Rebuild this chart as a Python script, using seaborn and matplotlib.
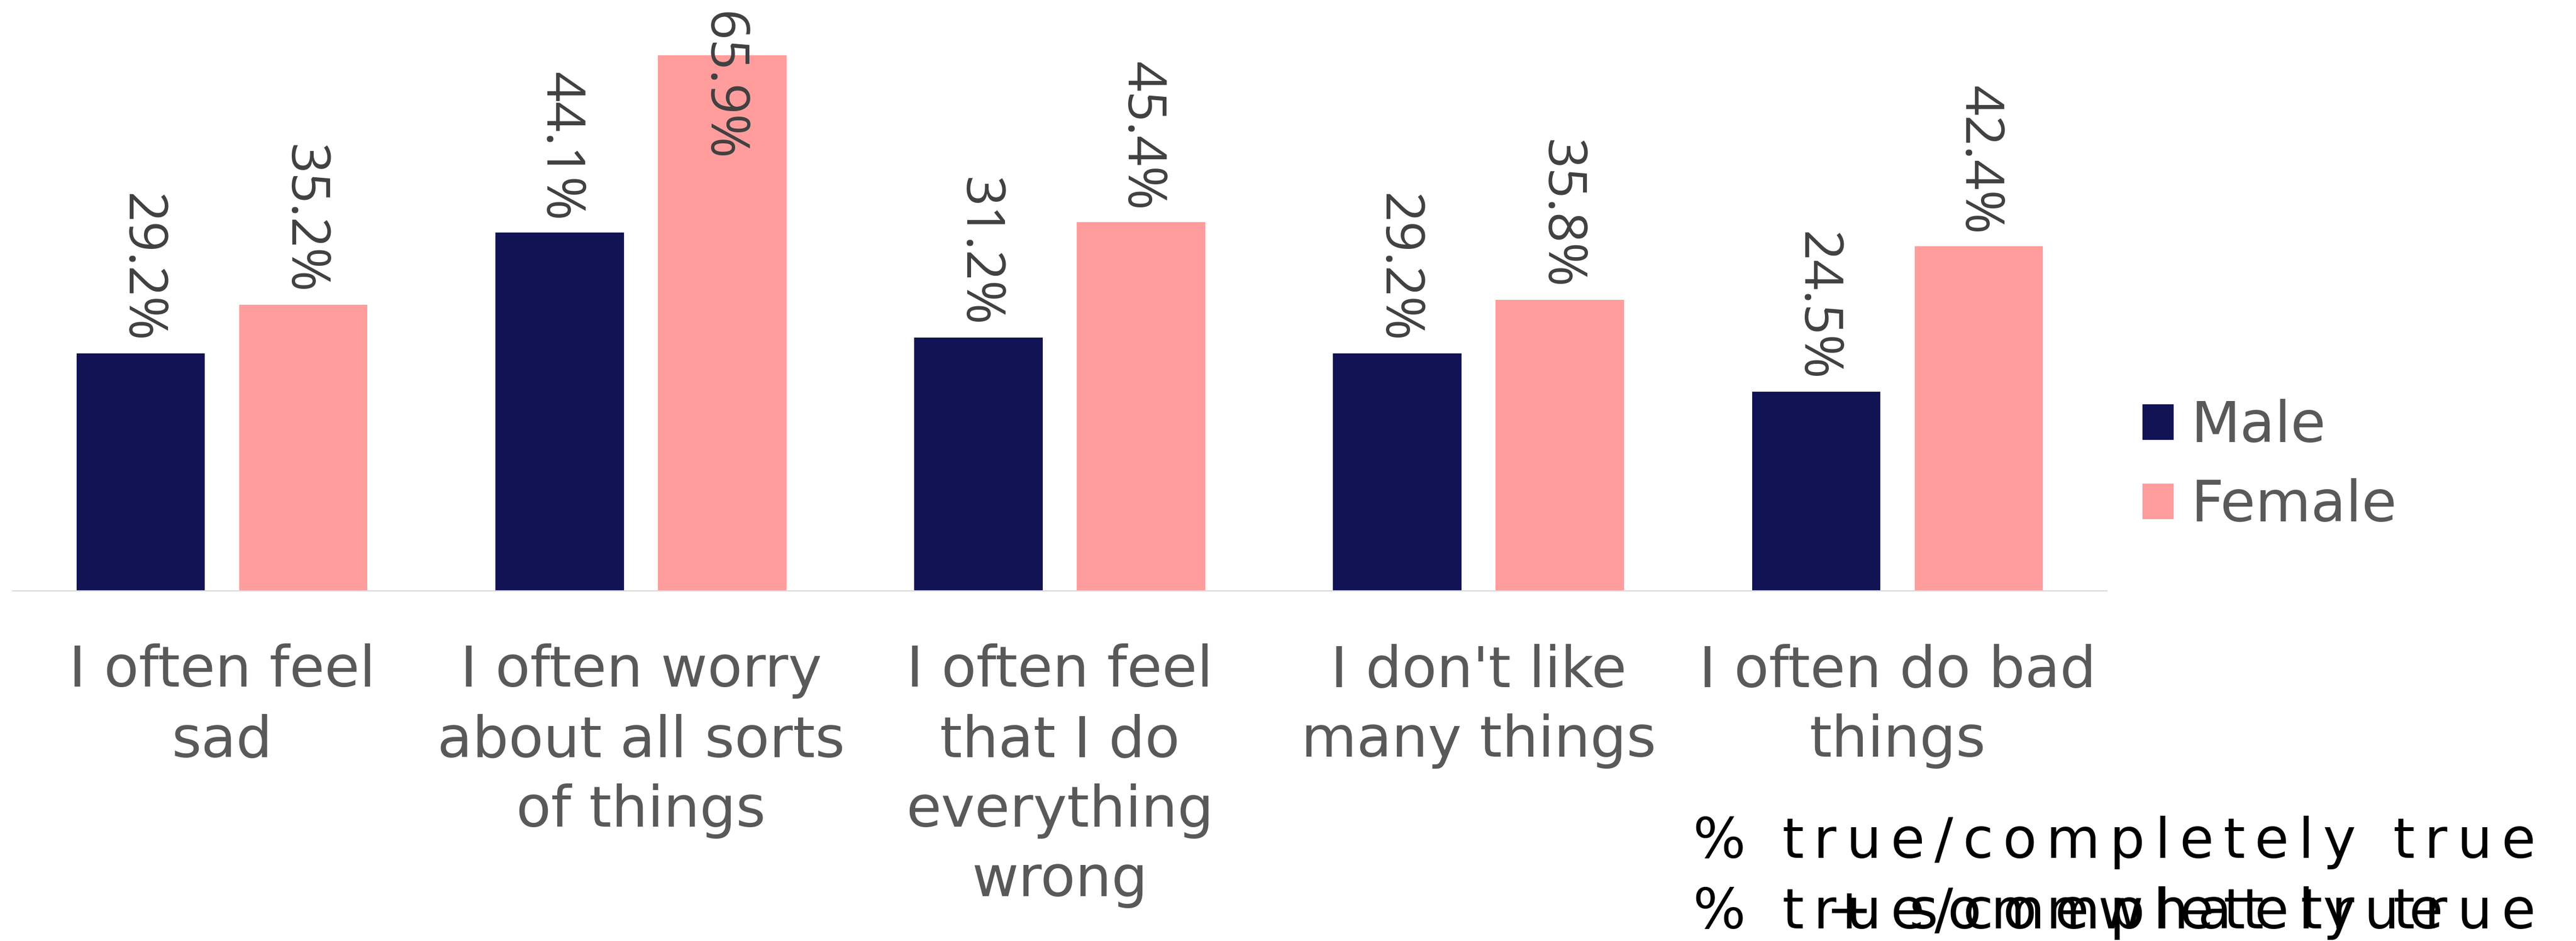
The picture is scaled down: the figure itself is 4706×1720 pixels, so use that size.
import matplotlib
matplotlib.use("Agg")
import matplotlib.pyplot as plt
import seaborn as sns
import pandas as pd

# ---- data -------------------------------------------------------------
statements = [
    "I often feel\nsad",
    "I often worry\nabout all sorts\nof things",
    "I often feel\nthat I do\neverything\nwrong",
    "I don't like\nmany things",
    "I often do bad\nthings",
]
genders = ["Male", "Female"]
male_pct = [29.2, 44.1, 31.2, 29.2, 24.5]
female_pct = [35.2, 65.9, 45.4, 35.8, 42.4]
note_line = "% true/completely true"
note_extra = "+ somewhat true"

colors = {"Male": "#111354", "Female": "#FF9D9D"}

df = pd.DataFrame({
    "statement": statements * 2,
    "gender": ["Male"] * len(statements) + ["Female"] * len(statements),
    "pct": male_pct + female_pct,
})

# ---- style ------------------------------------------------------------
sns.set_style("white")
plt.rcParams["font.family"] = ["DejaVu Sans"]

W, H = 4706, 1720
DPI = 100
fig = plt.figure(figsize=(W / DPI, H / DPI), dpi=DPI)
fig.patch.set_facecolor("white")

ax_left, ax_right = 23, 3849
ax_base = 1080
ax = fig.add_axes([ax_left / W, 1 - ax_base / H, (ax_right - ax_left) / W, ax_base / H])

sns.barplot(
    data=df, x="statement", y="pct", hue="gender",
    order=statements, hue_order=genders, palette=colors,
    width=0.776, gap=0.21, saturation=1, linewidth=0,
    errorbar=None, ax=ax,
)

ax.set_xlim(-0.5, 4.5)
ax.set_ylim(0, 72.7)
ax.set_xlabel("")
ax.set_ylabel("")
ax.set_yticks([])
for side in ("left", "right", "top"):
    ax.spines[side].set_visible(False)
ax.spines["bottom"].set_color("#D9D9D9")
ax.spines["bottom"].set_linewidth(1.6)
ax.tick_params(axis="x", length=0, pad=69, labelsize=75, labelcolor="#595959")
for lbl in ax.get_xticklabels():
    lbl.set_linespacing(1.34)
    lbl.set_ha("center")

# ---- value labels -----------------------------------------------------
annots = []
for container, values in zip(ax.containers, [male_pct, female_pct]):
    for bar, v in zip(container, values):
        cx = bar.get_x() + bar.get_width() / 2
        a = ax.annotate(
            f"{v:.1f}%", xy=(cx, v), xytext=(0, 14.4), textcoords="offset points",
            rotation=-90, ha="center", va="bottom", fontsize=70,
            family=["Open Sans", "DejaVu Sans"], color="#404040",
            annotation_clip=False,
        )
        annots.append(a)

# ---- legend -----------------------------------------------------------
leg = ax.legend(
    loc="center left", bbox_to_anchor=(3914 / W, 1 - 852 / H),
    bbox_transform=fig.transFigure, frameon=False, fontsize=75,
    handlelength=0.55, handleheight=0.58, handletextpad=0.3,
    labelspacing=0.42, borderpad=0, borderaxespad=0,
)
for t in leg.get_texts():
    t.set_color("#595959")

# keep labels that run past the top of the figure inside it
fig.canvas.draw()
renderer = fig.canvas.get_renderer()
for a in annots:
    bb = a.get_window_extent(renderer)
    if bb.y1 > H - 20:
        a.xy = (a.xy[0], ax.get_ylim()[1])
        a.set_va("top")
        a.xyann = (0, -21 * 72 / DPI)

# ---- letter-spaced note ----------------------------------------------------
def char_advance(ch, size):
    probe = fig.text(0, 0, "|" + ch + "|", fontsize=size)
    ref = fig.text(0, 0, "||", fontsize=size)
    w = probe.get_window_extent(renderer).width - ref.get_window_extent(renderer).width
    probe.remove()
    ref.remove()
    return w


def tracked_text(s, left_px, base_px, size, tracking):
    x = left_px
    for ch in s:
        adv = char_advance(ch, size)
        if ch != " ":
            fig.text(x / W, 1 - base_px / H, ch, fontsize=size, ha="left",
                     va="baseline", color="black")
        x += adv + tracking


note_size = 73
natural = sum(char_advance(c, note_size) for c in note_line)
track = (1540 - natural) / (len(note_line) - 1)
tracked_text(note_line, 3092, 1568, note_size, track)
tracked_text(note_line, 3092, 1697, note_size, track)
tracked_text(note_extra, 3335, 1697, note_size, track)

fig.savefig("out.png", dpi=DPI, facecolor="white")
